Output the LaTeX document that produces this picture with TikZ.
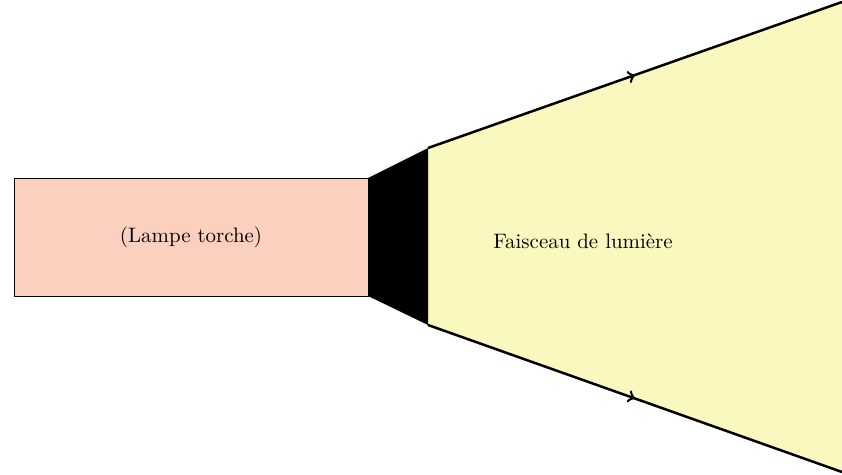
\documentclass[tikz,border=0pt]{standalone}
\usetikzlibrary{decorations.markings}
\definecolor{lampfill}{RGB}{251,208,190}
\definecolor{beamfill}{RGB}{250,248,190}
\tikzset{
  beamedge/.style={very thick, postaction={decorate}, decoration={markings, mark=at position 0.5 with {\arrow{>}}}},
  lampbox/.style={draw=black, fill=lampfill},
}
\begin{document}
\begin{tikzpicture}[x=0.0168cm, y=-0.0168cm]
\useasboundingbox (0,0) rectangle (842,475);
% beam
\fill[beamfill] (428,148) -- (842,2) -- (842,472) -- (428,325) -- cycle;
\coordinate (bt0) at (428,148);
\coordinate (bt1) at (842,2);
\coordinate (bb0) at (428,325);
\coordinate (bb1) at (842,472);
\draw[beamedge] (bt0) -- (bt1);
\draw[beamedge] (bb0) -- (bb1);
% lamp body
\draw[lampbox] (14,178) rectangle (368,296);
\node (lamp) at (191,237) {(Lampe torche)};
% head
\fill[black] (368,178) -- (bt0) -- (bb0) -- (368,296) -- cycle;
\node (beam) at (583,241) {Faisceau de lumière};
\end{tikzpicture}
\end{document}
